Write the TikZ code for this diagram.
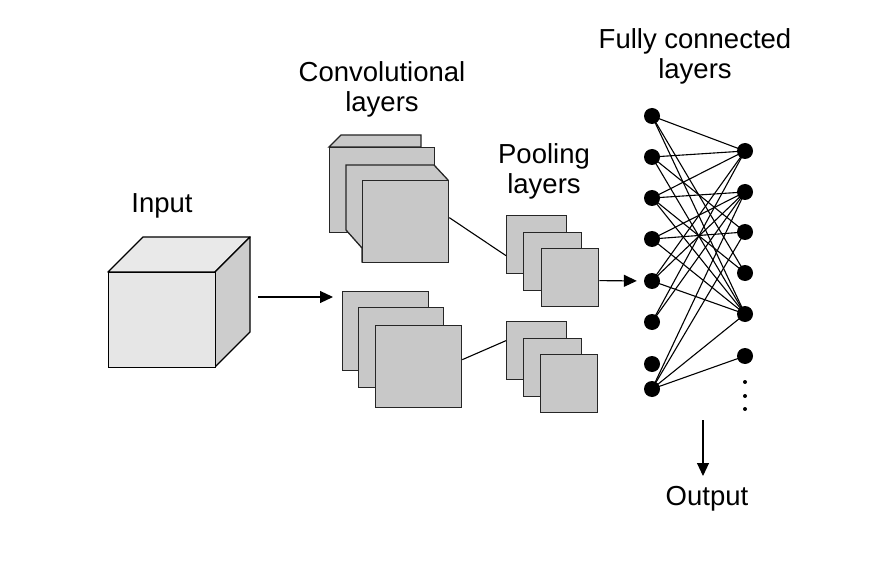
\documentclass[tikz,border=0pt]{standalone}
\usepackage{fontspec}
\setmainfont{Liberation Sans}
\usetikzlibrary{arrows.meta}
\definecolor{plategray}{HTML}{C8C8C8}
\definecolor{cubefront}{HTML}{E6E6E6}
\definecolor{cubetop}{HTML}{E9E9E9}
\definecolor{cubeside}{HTML}{CDCDCD}
\begin{document}
\begin{tikzpicture}[x=1pt,y=-1pt,
  lbl/.style={align=center,font=\fontsize{27.5}{30}\selectfont,inner sep=0pt},
  plate/.style={draw=black!85,line width=1.3pt,fill=plategray,inner sep=0pt,anchor=north west},
  platepoly/.style={draw=black!85,line width=1.3pt,fill=plategray,line join=miter},
  cubeface/.style={draw=black,line width=1.4pt,line join=round},
  neuron/.style={circle,fill=black,inner sep=0pt,minimum size=16pt},
  smalldot/.style={circle,fill=black,inner sep=0pt,minimum size=4pt},
  wire/.style={line width=1.1pt,black},
  arr/.style={line width=1.1pt,-{Triangle[length=13pt,width=12pt]}}
]
\useasboundingbox (0,0) rectangle (870,580);

% labels
\node[lbl] (tin) at (162,206) {Input};
\node[lbl] (tconv) at (382,89) {Convolutional\\layers};
\node[lbl] (tpool) at (544,171) {Pooling\\layers};
\node[lbl] (tfc) at (695,56) {Fully connected\\layers};
\node[lbl] (tout) at (707,499) {Output};

% input cube
\filldraw[cubeface,fill=cubetop] (108,272) -- (143,237) -- (250,237) -- (215,272) -- cycle;
\filldraw[cubeface,fill=cubeside] (215,272) -- (250,237) -- (250,332) -- (215,367) -- cycle;
\node[draw=black,line width=1.4pt,fill=cubefront,inner sep=0pt,anchor=north west,
      minimum width=107pt,minimum height=95pt] (cube) at (108,272) {};

% arrow input -> conv
\coordinate (a1) at (258,297);
\coordinate (a2) at (333,297);
\draw[arr] (a1) -- (a2);

% convolutional layers, top group
\filldraw[platepoly] (329,147) -- (341,135) -- (421,135) -- (421,147) -- cycle;
\node[plate,minimum width=105pt,minimum height=85pt] (c1) at (329,147) {};
\filldraw[platepoly] (346,165) -- (434,165) -- (448,180) -- (448,262) -- (362,262) -- (362,248) -- (346,230) -- cycle;
\node[plate,minimum width=86pt,minimum height=82pt] (c3) at (362,180) {};

% convolutional layers, bottom group
\node[plate,minimum width=86pt,minimum height=79pt] (q1) at (342,291) {};
\node[plate,minimum width=85pt,minimum height=80pt] (q2) at (358,307) {};
\node[plate,minimum width=86pt,minimum height=82pt] (q3) at (375,325) {};

% pooling layers, top group
\node[plate,minimum width=60pt,minimum height=58pt] (p1) at (506,215) {};
\node[plate,minimum width=58pt,minimum height=58pt] (p2) at (523,232) {};
\node[plate,minimum width=57pt,minimum height=58pt] (p3) at (541,248) {};

% pooling layers, bottom group
\node[plate,minimum width=60pt,minimum height=58pt] (p4) at (506,321) {};
\node[plate,minimum width=58pt,minimum height=58pt] (p5) at (523,338) {};
\node[plate,minimum width=57pt,minimum height=58pt] (p6) at (540,354) {};

% conv -> pool connectors
\draw[wire] ([yshift=4pt]c3.east) -- ([yshift=-11pt]p1.west);
\draw[wire] ([yshift=7pt]q3.east) -- ([yshift=10pt]p4.west);

% fully connected layer
\foreach \i/\y in {1/116,2/157,3/198,4/239,5/281,6/322,7/364,8/389}
  \node[neuron] (l\i) at (652,\y) {};
\foreach \i/\y in {1/151,2/192,3/232,4/273,5/314,6/356}
  \node[neuron] (r\i) at (745,\y) {};
\foreach \i/\y in {1/382,2/396,3/409}
  \node[smalldot] (d\i) at (745,\y) {};

\foreach \a/\b in {1/1,1/4,1/5,
                   2/1,2/3,2/5,
                   3/1,3/2,3/4,3/5,
                   4/2,4/3,4/5,
                   5/1,5/2,5/5,
                   6/1,6/2,
                   8/2,8/3,8/5,8/6}
  \draw[wire] (l\a.center) -- (r\b.center);

% pool -> fc arrow
\draw[arr,shorten >=7pt] ([yshift=-3pt]p3.east) -- (l5);

% output arrow
\coordinate (o1) at (703,420);
\draw[arr] (o1) -- (703,476);
\end{tikzpicture}
\end{document}
